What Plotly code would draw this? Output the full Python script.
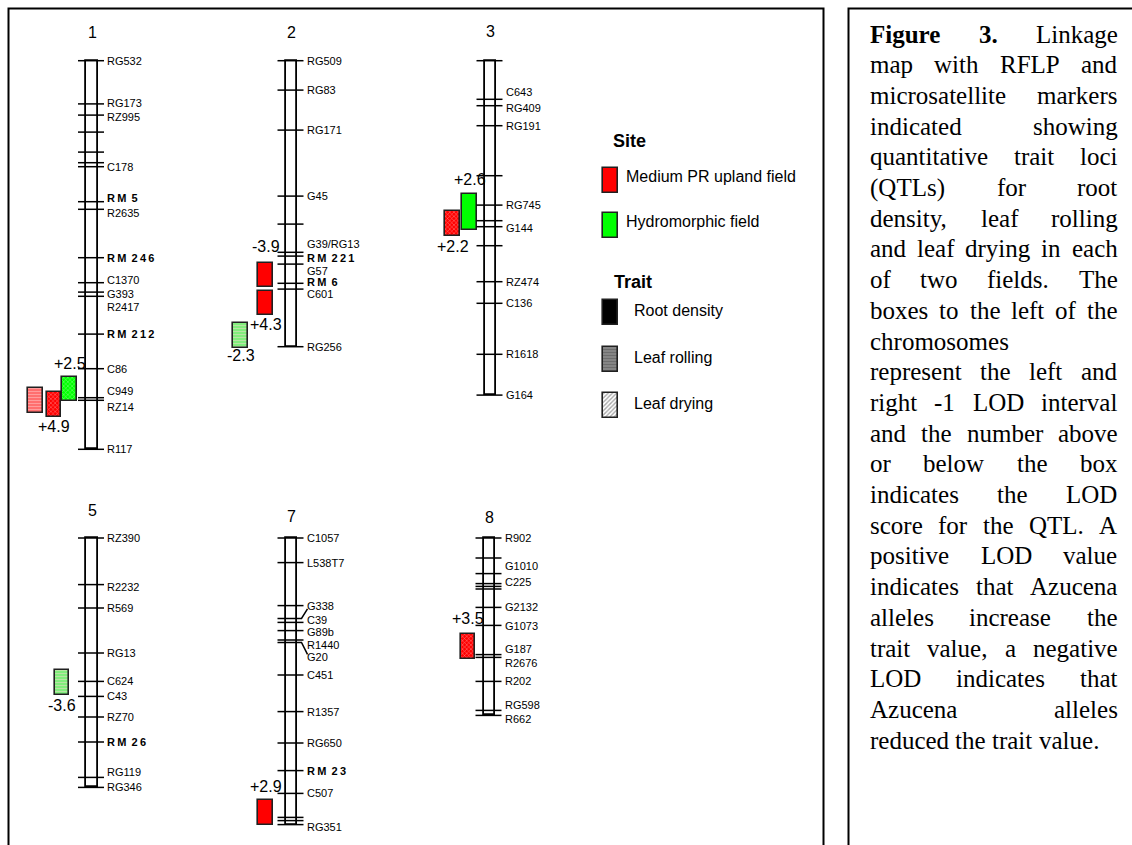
import plotly.graph_objects as go

W, H = 1132, 845
PX_PER_CM = 2.0

# ---------------- marker data: positions in cM from the top marker ----------------
chromosomes = ['1', '2', '3', '5', '7', '8']

chr1_names = ['RG532', 'RG173', 'RZ995', '', '', '', 'C178', 'RM5', 'R2635', 'RM246',
              'C1370', 'G393', 'R2417', 'RM212', 'C86', 'C949', 'RZ14', 'R117']
chr1_pos = [0, 21.6, 27.2, 35.7, 45.7, 51.0, 53.0, 70.5, 74.3, 98.5,
            111.0, 115.7, 117.8, 136.7, 154.0, 168.5, 169.8, 194.3]

chr2_names = ['RG509', 'RG83', 'RG171', 'G45', '', 'G39/RG13', 'RM221', 'G57', 'RM6',
              'C601', 'RG256']
chr2_pos = [0, 14.7, 34.7, 67.7, 81.7, 95.8, 97.7, 101.7, 111.3, 114.2, 143.0]

chr3_names = ['', 'C643', 'RG409', 'RG191', '', 'RG745', '', 'G144', '', 'RZ474', 'C136',
              'R1618', 'G164']
chr3_pos = [0, 19.3, 22.5, 32.5, 57.5, 72.2, 80.0, 83.0, 92.5, 110.5, 121.3, 146.8, 167.2]

chr5_names = ['RZ390', 'R2232', 'R569', 'RG13', 'C624', 'C43', 'RZ70', 'RM26', 'RG119',
              'RG346']
chr5_pos = [0, 23.3, 35.0, 57.5, 71.7, 79.2, 89.5, 102.0, 119.7, 124.7]

chr7_names = ['C1057', 'L538T7', '', 'G338', 'C39', 'G89b', 'R1440', 'G20', 'C451', 'R1357',
              'RG650', 'RM23', 'C507', '', '', 'RG351']
chr7_pos = [0, 12.3, 33.8, 40.2, 42.2, 46.3, 51.0, 52.2, 68.5, 86.8,
            102.5, 116.3, 127.7, 139.7, 141.3, 143.3]

chr8_names = ['R902', '', 'G1010', 'C225', '', '', 'G2132', 'G1073', 'G187', 'R2676',
              'R202', 'RG598', 'R662']
chr8_pos = [0, 10.0, 17.8, 22.8, 24.2, 25.5, 34.7, 43.7, 58.3, 59.7, 71.7, 86.2, 88.7]

marker_names = {'1': chr1_names, '2': chr2_names, '3': chr3_names,
                '5': chr5_names, '7': chr7_names, '8': chr8_names}
marker_pos = {'1': chr1_pos, '2': chr2_pos, '3': chr3_pos,
              '5': chr5_pos, '7': chr7_pos, '8': chr8_pos}

# ---------------- QTL data: -1 LOD support intervals (cM) and LOD scores ----------------
qtl_chrom = ['1', '1', '1', '2', '2', '2', '3', '3', '5', '7', '8']
qtl_start = [163.8, 165.7, 158.0, 101.0, 115.0, 131.3, 66.7, 75.2, 66.2, 131.0, 48.0]
qtl_end = [176.3, 178.0, 170.2, 113.3, 127.2, 143.5, 84.7, 87.7, 78.7, 143.5, 60.5]
qtl_lod = [None, 4.9, 2.5, -3.9, 4.3, -2.3, 2.6, 2.2, -3.6, 2.9, 3.5]
qtl_site = ['Medium PR upland field', 'Medium PR upland field', 'Hydromorphic field',
            'Medium PR upland field', 'Medium PR upland field', 'Hydromorphic field',
            'Hydromorphic field', 'Medium PR upland field', 'Hydromorphic field',
            'Medium PR upland field', 'Medium PR upland field']
qtl_trait = ['Leaf rolling', 'Leaf drying', 'Leaf drying', 'Root density', 'Root density',
             'Leaf rolling', 'Root density', 'Leaf drying', 'Leaf rolling', 'Root density',
             'Leaf drying']

sites = ['Medium PR upland field', 'Hydromorphic field']
traits = ['Root density', 'Leaf rolling', 'Leaf drying']

caption_lines = [
    'Figure 3. Linkage',
    'map with RFLP and',
    'microsatellite markers',
    'indicated showing',
    'quantitative trait loci',
    '(QTLs) for root',
    'density, leaf rolling',
    'and leaf drying in each',
    'of two fields. The',
    'boxes to the left of the',
    'chromosomes',
    'represent the left and',
    'right -1 LOD interval',
    'and the number above',
    'or below the box',
    'indicates the LOD',
    'score for the QTL. A',
    'positive LOD value',
    'indicates that Azucena',
    'alleles increase the',
    'trait value, a negative',
    'LOD indicates that',
    'Azucena alleles',
    'reduced the trait value.',
]

# ---------------- layout and styling ----------------
chrom_x = {'1': 92, '2': 291.5, '3': 490.5, '5': 92, '7': 291.5, '8': 489.5}
chrom_row = {'1': 0, '2': 0, '3': 0, '5': 1, '7': 1, '8': 1}
title_gap_px = {'1': 28, '2': 28, '3': 29, '5': 28, '7': 22, '8': 21}
row_top_px = [60.7, 538.0]
row_axis = ['y', 'y2']

BAR_W = 11.7
TICK_L, TICK_R, LABEL_DX = -14, 12, 14
LABEL_SIZE = 11

# label offsets (px, positive = downward) where neighbouring markers crowd
label_nudge_px = {
    ('1', 'RG173'): -1, ('1', 'RZ995'): 1.5,
    ('1', 'RM5'): -4, ('1', 'R2635'): 4,
    ('1', 'C1370'): -3, ('1', 'G393'): 1.5, ('1', 'R2417'): 11, ('1', 'C949'): -7,
    ('1', 'RZ14'): 7,
    ('2', 'G39/RG13'): -8, ('2', 'RM221'): 2, ('2', 'G57'): 6.5, ('2', 'RM6'): -1.5,
    ('2', 'C601'): 4.5,
    ('3', 'C643'): -7, ('3', 'RG409'): 2, ('3', 'G144'): 1,
    ('5', 'R2232'): 2.7, ('5', 'RG119'): -5.5,
    ('7', 'G338'): -12, ('7', 'C39'): -2, ('7', 'G89b'): 1.5, ('7', 'R1440'): 4.5,
    ('7', 'G20'): 15, ('7', 'RG351'): 2.6,
    ('8', 'G1010'): -7.5, ('8', 'C225'): -1.5, ('8', 'G1073'): 1, ('8', 'G187'): -6,
    ('8', 'R2676'): 5.5, ('8', 'RG598'): -5, ('8', 'R662'): 4,
}
leader_labels = {('7', 'G338'), ('7', 'G20')}

qtl_dx_px = [-56.5, -38.2, -22.5, -26, -26, -51, -21, -38, -30, -26, -21.5]
qtl_label_side = [None, 'below', 'above', 'above', 'below', 'below', 'above', 'below',
                  'below', 'above', 'above']
qtl_label_gap_px = [0, 0, 1, 4, 0, -2, 2, 1, 1, 1, 3]
QTL_W = 14.2

site_color = {'Medium PR upland field': '#FF0000', 'Hydromorphic field': '#00FF00'}
trait_pattern = {
    'Root density': dict(shape=''),
    'Leaf rolling': dict(shape='-', fgcolor='#FFD8D8', size=3, solidity=0.5, fillmode='overlay'),
    'Leaf drying': dict(shape='x', fgcolor='white', size=3, solidity=0.3, fillmode='overlay'),
}
site_rolling_tint = {'Medium PR upland field': '#FF6060', 'Hydromorphic field': '#70F070'}

SANS = 'Liberation Sans, Arial, sans-serif'
SERIF = 'Liberation Serif, Times New Roman, serif'

fig = go.Figure()
annotations = []


def label_text(name):
    if name.startswith('RM'):
        return '<b>R\u2009M\u2009 ' + '\u2009'.join(name[2:]) + '</b>'
    return name


# ---------------- chromosomes ----------------
for row in (0, 1):
    chs = [c for c in chromosomes if chrom_row[c] == row]
    fig.add_trace(go.Bar(
        x=[chrom_x[c] for c in chs],
        base=[min(marker_pos[c]) for c in chs],
        y=[max(marker_pos[c]) - min(marker_pos[c]) for c in chs],
        width=[BAR_W] * len(chs),
        marker=dict(color='white', line=dict(color='black', width=1.8)),
        yaxis=row_axis[row], showlegend=False, hoverinfo='skip'))

    tx, ty = [], []
    for c in chs:
        cx = chrom_x[c]
        for name, pos in zip(marker_names[c], marker_pos[c]):
            key = (c, name)
            if key in leader_labels:
                tx += [cx + TICK_L, cx + TICK_R - 2, cx + LABEL_DX + 2, None]
                ty += [pos, pos, pos + label_nudge_px[key] / PX_PER_CM * 0.8, None]
            else:
                tx += [cx + TICK_L, cx + TICK_R, None]
                ty += [pos, pos, None]
    fig.add_trace(go.Scatter(x=tx, y=ty, mode='lines', yaxis=row_axis[row],
                             line=dict(color='black', width=1.5),
                             showlegend=False, hoverinfo='skip'))

    for c in chs:
        cx = chrom_x[c]
        annotations.append(dict(x=cx, y=min(marker_pos[c]), xref='x', yref=row_axis[row],
                                text=c, showarrow=False, yanchor='middle',
                                yshift=title_gap_px[c],
                                font=dict(family=SANS, size=16, color='black')))
        for name, pos in zip(marker_names[c], marker_pos[c]):
            if not name:
                continue
            annotations.append(dict(
                x=cx + LABEL_DX, y=pos, xref='x', yref=row_axis[row],
                text=label_text(name), showarrow=False, xanchor='left', yanchor='middle',
                yshift=-label_nudge_px.get((c, name), 0), borderpad=0,
                font=dict(family=SANS, size=LABEL_SIZE, color='black')))

# ---------------- QTL boxes ----------------
for i, c in enumerate(qtl_chrom):
    row = chrom_row[c]
    bx = chrom_x[c] + qtl_dx_px[i]
    fill = (site_rolling_tint[qtl_site[i]] if qtl_trait[i] == 'Leaf rolling'
            else site_color[qtl_site[i]])
    fig.add_trace(go.Bar(
        x=[bx], base=[qtl_start[i]], y=[qtl_end[i] - qtl_start[i]], width=[QTL_W],
        marker=dict(color=fill,
                    line=dict(color='#202020', width=1.6),
                    pattern=trait_pattern[qtl_trait[i]]),
        yaxis=row_axis[row], showlegend=False, hoverinfo='skip'))
    if qtl_lod[i] is not None:
        above = qtl_label_side[i] == 'above'
        gap = 2 + qtl_label_gap_px[i]
        annotations.append(dict(
            x=bx, y=qtl_start[i] if above else qtl_end[i], xref='x', yref=row_axis[row],
            text=f'{qtl_lod[i]:+.1f}', showarrow=False,
            yanchor='bottom' if above else 'top', yshift=gap if above else -gap + 3,
            font=dict(family=SANS, size=16, color='black')))

# ---------------- key ----------------
key_x = 610.2
key_rows = [(sites[0], 180.2, site_color[sites[0]], dict(shape='')),
            (sites[1], 225.2, site_color[sites[1]], dict(shape='')),
            (traits[0], 312.5, 'black', dict(shape='')),
            (traits[1], 359.2, '#8a8a8a',
             dict(shape='-', fgcolor='#505050', size=3, solidity=0.45, fillmode='overlay')),
            (traits[2], 405.8, 'white',
             dict(shape='/', fgcolor='#505050', size=3, solidity=0.45, fillmode='overlay'))]
for k, (name, cy, col, pat) in enumerate(key_rows):
    fig.add_trace(go.Bar(x=[key_x], base=[cy - 12.5], y=[25], width=[15],
                         marker=dict(color=col, line=dict(color='#202020', width=1.6),
                                     pattern=pat),
                         yaxis='y3', showlegend=False, hoverinfo='skip'))
    annotations.append(dict(x=key_x + (14 if k < 2 else 22), y=cy - (4 if k < 2 else 2),
                            xref='x', yref='y3', text=name, showarrow=False,
                            xanchor='left', yanchor='middle',
                            font=dict(family=SANS, size=16, color='black')))
for title, tx, ty in (('Site', 610.7, 141), ('Trait', 612.3, 282.3)):
    annotations.append(dict(x=tx, y=ty, xref='x', yref='y3', text=f'<b>{title}</b>',
                            showarrow=False, xanchor='left', yanchor='middle',
                            font=dict(family=SANS, size=18, color='black')))

# ---------------- caption (justified) ----------------
TIMES = dict(zip('abcdefghijklmnopqrstuvwxyz',
                 [444, 500, 444, 500, 444, 333, 500, 500, 278, 278, 500, 278, 778, 500, 500,
                  500, 500, 333, 389, 278, 500, 500, 722, 500, 500, 444]))
TIMES.update(dict(zip('ABCDEFGHIJKLMNOPQRSTUVWXYZ',
                      [722, 667, 667, 722, 611, 556, 722, 722, 333, 389, 722, 611, 889, 722,
                       722, 556, 722, 667, 556, 611, 722, 722, 944, 722, 722, 611])))
TIMES.update({d: 500 for d in '0123456789'})
TIMES.update({' ': 250, '.': 250, ',': 250, '-': 333, '(': 333, ')': 333})
TIMES_BOLD = dict(TIMES)
TIMES_BOLD.update({'F': 611, 'u': 556, 'r': 444})

CAP_SIZE = 25
CAP_L, CAP_R = 869, 1116.5
CAP_Y0, CAP_DY = 34, 30.7
ragged = {10, len(caption_lines) - 1}


def word_width(word, bold):
    table = TIMES_BOLD if bold else TIMES
    return sum(table.get(ch, 500) for ch in word) * CAP_SIZE / 1000.0


for li, line in enumerate(caption_lines):
    words = line.split()
    bold = [li == 0 and wi < 2 for wi in range(len(words))]
    widths = [word_width(w, b) for w, b in zip(words, bold)]
    if li in ragged or len(words) == 1:
        gap = TIMES[' '] * CAP_SIZE / 1000.0
    else:
        gap = (CAP_R - CAP_L - sum(widths)) / (len(words) - 1)
    x = CAP_L
    for w, b, wd in zip(words, bold, widths):
        annotations.append(dict(x=x - 1, y=CAP_Y0 + li * CAP_DY, xref='x', yref='y3',
                                text=f'<b>{w}</b>' if b else w, showarrow=False,
                                xanchor='left', yanchor='middle',
                                font=dict(family=SERIF, size=CAP_SIZE, color='black')))
        x += wd + gap

# ---------------- frames ----------------
shapes = [
    dict(type='rect', xref='x', yref='y3', x0=8.5, x1=823.5, y0=8.5, y1=H + 20,
         line=dict(color='black', width=2), fillcolor='rgba(0,0,0,0)', layer='below'),
    dict(type='rect', xref='x', yref='y3', x0=848.5, x1=W + 20, y0=8.5, y1=H + 20,
         line=dict(color='black', width=2), fillcolor='rgba(0,0,0,0)', layer='below'),
]


def row_range(top):
    return [(H - top) / PX_PER_CM, -top / PX_PER_CM]


fig.update_layout(
    width=W, height=H, margin=dict(l=0, r=0, t=0, b=0),
    paper_bgcolor='white', plot_bgcolor='white',
    barmode='overlay', bargap=0, showlegend=False,
    xaxis=dict(range=[0, W], visible=False, fixedrange=True),
    yaxis=dict(range=row_range(row_top_px[0]), visible=False, fixedrange=True),
    yaxis2=dict(range=row_range(row_top_px[1]), overlaying='y', visible=False,
                fixedrange=True),
    yaxis3=dict(range=[H, 0], overlaying='y', visible=False, fixedrange=True),
    annotations=annotations, shapes=shapes,
)

fig.write_html('out.html')
